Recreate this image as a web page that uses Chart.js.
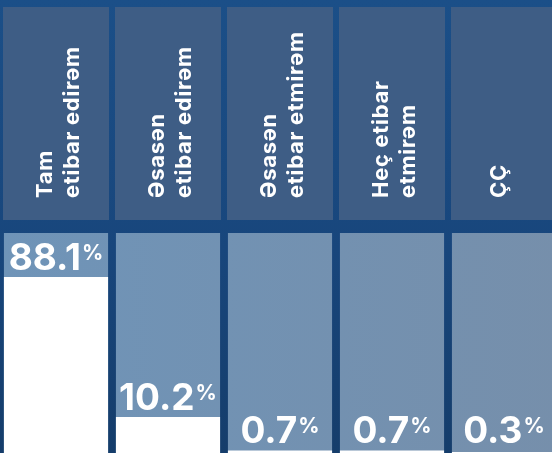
<!DOCTYPE html>
<html lang="az">
<head>
<meta charset="utf-8">
<title>Etibar səviyyəsi</title>
<script src="https://cdn.jsdelivr.net/npm/chart.js@4.4.1/dist/chart.umd.min.js"></script>
<style>
  html, body {
    margin: 0;
    width: 552px;
    height: 453px;
    overflow: hidden;
    background: linear-gradient(180deg, #1b4f88 0%, #18467c 55%, #153d6b 100%);
  }
  #chart { position: absolute; left: 0; top: 0; }
</style>
</head>
<body>
<canvas id="chart" width="560" height="453"></canvas>
<script>
var categories = [
  ["Tam", "etibar edirəm"],
  ["Əsasən", "etibar edirəm"],
  ["Əsasən", "etibar etmirəm"],
  ["Heç etibar", "etmirəm"],
  ["ÇÇ"]
];
var shares = [88.1, 10.2, 0.7, 0.7, 0.3];
var yMax = 50;

var FONT = "Inter, 'Open Sans', sans-serif";

// header boxes, light tracks behind the bars, and the value labels
var columnsPlugin = {
  id: 'columns',
  beforeDatasetsDraw: function (chart) {
    var ctx = chart.ctx, area = chart.chartArea;
    var bars = chart.getDatasetMeta(0).data;
    var trackTop = area.top - 44;

    var track = ctx.createLinearGradient(area.left, 0, area.right, 0);
    track.addColorStop(0, '#6f94b8');
    track.addColorStop(1, '#768fab');

    ctx.save();
    bars.forEach(function (bar, i) {
      // header box
      ctx.fillStyle = '#3e5d85';
      ctx.fillRect(bar.x - 53, 7, 106, 213);

      // track
      ctx.fillStyle = track;
      ctx.fillRect(bar.x - bar.width / 2, trackTop, bar.width, area.bottom - trackTop);

      // rotated header text
      var lines = categories[i];
      var n = lines.length;
      ctx.save();
      ctx.translate(bar.x, 198);
      ctx.rotate(-Math.PI / 2);
      ctx.fillStyle = '#ffffff';
      ctx.font = '700 22px ' + FONT;
      ctx.letterSpacing = '0.7px';
      ctx.textAlign = 'left';
      ctx.textBaseline = 'alphabetic';
      lines.forEach(function (line, j) {
        ctx.fillText(line, 0, 2 - 6.5 * (n - 1) + 27 * j);
      });
      ctx.restore();
    });
    ctx.restore();
  },
  afterDatasetsDraw: function (chart) {
    var ctx = chart.ctx, area = chart.chartArea;
    var bars = chart.getDatasetMeta(0).data;
    ctx.save();
    ctx.fillStyle = '#ffffff';
    ctx.textBaseline = 'alphabetic';
    ctx.textAlign = 'left';
    bars.forEach(function (bar, i) {
      var num = shares[i].toFixed(1);
      ctx.font = '700 37px ' + FONT;
      var wNum = ctx.measureText(num).width;
      ctx.font = '700 21px ' + FONT;
      var wPct = ctx.measureText('%').width;
      var total = wNum + 1 + wPct;
      var x = bar.x - total / 2;
      var top = Math.max(bar.y, area.top);
      var y = Math.min(top - 7, 443);
      ctx.font = '700 37px ' + FONT;
      ctx.fillText(num, x, y);
      ctx.font = '700 21px ' + FONT;
      ctx.fillText('%', x + wNum + 1, y - 10);
    });
    ctx.restore();
  }
};

var ctx = document.getElementById('chart').getContext('2d');
var myChart = new Chart(ctx, {
  type: 'bar',
  data: {
    labels: categories,
    datasets: [{
      data: shares,
      backgroundColor: '#ffffff',
      borderWidth: 0,
      categoryPercentage: 1,
      barPercentage: 0.93
    }]
  },
  options: {
    responsive: false,
    animation: false,
    layout: { padding: { top: 277, left: 0, right: 0, bottom: 0 } },
    scales: {
      x: { display: false },
      y: { display: false, min: 0, max: yMax }
    },
    plugins: {
      legend: { display: false },
      tooltip: { enabled: false }
    }
  },
  plugins: [columnsPlugin]
});
</script>
</body>
</html>
